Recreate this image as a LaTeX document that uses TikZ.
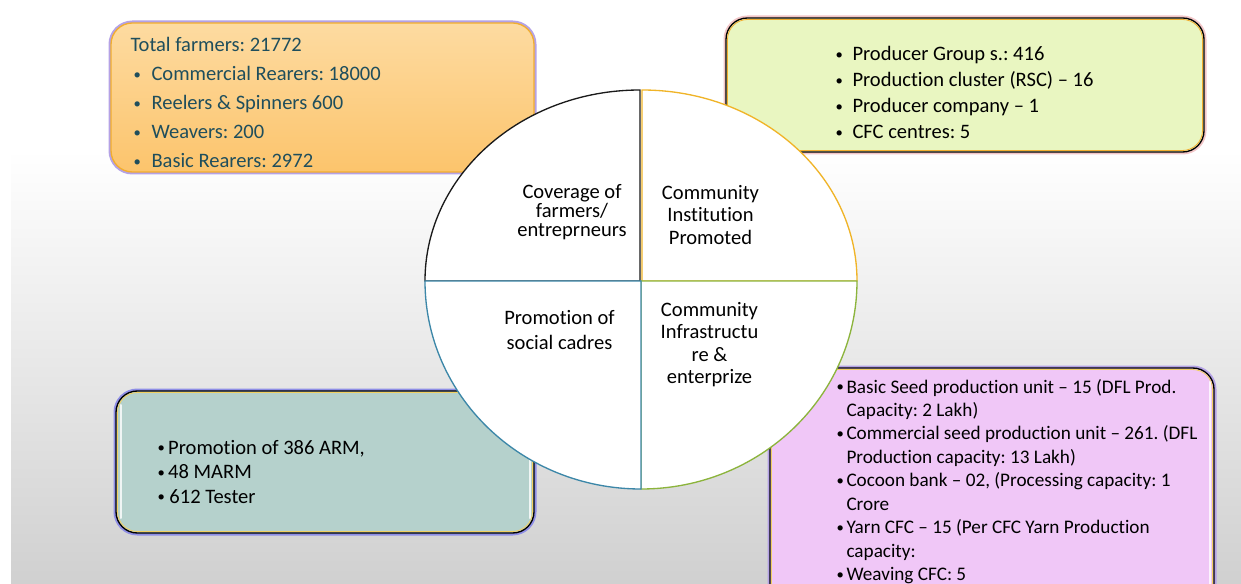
\documentclass[tikz,border=0pt]{standalone}
\usepackage{fontspec}
\setmainfont{Carlito}[Ligatures={TeX,NoCommon}]
\frenchspacing

\definecolor{bggrey}{HTML}{D0D0D0}
\definecolor{orangetop}{HTML}{FDDBA1}
\definecolor{orangebot}{HTML}{FCC46C}
\definecolor{orangeline}{HTML}{F2AE2E}
\definecolor{glowpurple}{HTML}{B4A2E6}
\definecolor{glowpink}{HTML}{F2C6C8}
\definecolor{glowblue}{HTML}{8E8EE6}
\definecolor{greenfill}{HTML}{E9F6C1}
\definecolor{tealfill}{HTML}{B5D1CC}
\definecolor{pinkfill}{HTML}{F0C7F7}
\definecolor{yellowline}{HTML}{F2D060}
\definecolor{tealtext}{HTML}{1F4E5C}
\definecolor{pieTL}{HTML}{1A1A1A}
\definecolor{pieTR}{HTML}{F0B428}
\definecolor{pieBL}{HTML}{3C87A8}
\definecolor{pieBR}{HTML}{8CB43C}

\newcommand{\boxlines}[1]{\begin{tabular}[t]{@{}l@{}}#1\end{tabular}}
\newcommand{\pielines}[1]{\begin{tabular}[t]{@{}c@{}}#1\end{tabular}}
\newcommand{\smallbul}{\raisebox{0.9pt}{\fontsize{11}{11}\selectfont\textbullet}}
\newcommand{\obul}{\hspace{2.25pt}\makebox[13.5pt][l]{\smallbul}}
\newcommand{\gbul}{\makebox[12.75pt][l]{\smallbul}}
\newcommand{\pbul}{\makebox[7.5pt][l]{\smallbul}}

\tikzset{every picture/.style={line width=0.75pt}}
\tikzset{
  boxtext/.style={anchor=base west, inner sep=0pt, font=\fontsize{15.4}{21.75}\selectfont},
  pietext/.style={anchor=base, inner sep=0pt},
  glow/.style={line width=3.75pt, rounded corners=16pt},
  panel/.style={line width=1pt, rounded corners=16pt},
  rim/.style={line width=0.6pt, rounded corners=15pt},
  shine/.style={white, line width=1.5pt, opacity=0.8, line cap=round},
  pie/.style={fill=white, line width=1pt},
}

\begin{document}
\begin{tikzpicture}[x=0.75pt,y=0.75pt,yscale=-1,xscale=1]
	\useasboundingbox (0,0) rectangle (1241,584);

	%Shape: Background
	\shade[top color=white, bottom color=bggrey] (11,150) rectangle (1241,584);

	%Shape: Rounded Rect [farmers]
	\draw[glow, draw=glowpurple] (111,23) rectangle (534,172);
	\draw[panel, draw=orangeline, top color=orangetop, bottom color=orangebot] (111,23) rectangle (534,172);
	%Shape: Rounded Rect [institutions]
	\draw[glow, draw=glowpink] (726,18) rectangle (1204,152);
	\draw[panel, draw=black, fill=greenfill] (726,18) rectangle (1204,152);
	\draw[rim, draw=orangeline] (727.5,19.5) rectangle (1202.5,150.5);
	%Shape: Rounded Rect [cadres]
	\draw[glow, draw=glowblue] (116,391) rectangle (534,533);
	\draw[panel, draw=black, fill=tealfill] (116,391) rectangle (534,533);
	\draw[rim, draw=yellowline] (117.5,392.5) rectangle (532.5,531.5);
	\draw[shine] (120.5,405) -- (120.5,518);
	\draw[shine] (530,405) -- (530,518);
	%Shape: Rounded Rect [infrastructure]
	\draw[glow, draw=glowpurple] (770,368) rectangle (1214,612);
	\draw[panel, draw=black, fill=pinkfill] (770,368) rectangle (1214,612);
	\draw[rim, draw=yellowline] (771.5,369.5) rectangle (1212.5,610.5);
	\draw[shine] (1210,382) -- (1210,584);

	%Shape: Pie [top left]
	\draw[pie, draw=pieTL] (640,281) -- (425,281) arc[start angle=180, end angle=270, x radius=215, y radius=191] -- cycle;
	%Shape: Pie [top right]
	\draw[pie, draw=pieTR] (642,281) -- (642,90) arc[start angle=270, end angle=360, x radius=215, y radius=191] -- cycle;
	%Shape: Pie [bottom right]
	\draw[pie, draw=pieBR] (641,281) -- (857,281) arc[start angle=0, end angle=90, x radius=216, y radius=208] -- cycle;
	%Shape: Pie [bottom left]
	\draw[pie, draw=pieBL] (641,281) -- (641,489) arc[start angle=90, end angle=180, x radius=216, y radius=208] -- cycle;

	% Text Node
	\node[pietext, font=\fontsize{15.4}{13.5}\selectfont] (coverage) at (572,198.3) {\pielines{Coverage of\\farmers/\\entreprneurs}};
	% Text Node
	\node[pietext, font=\fontsize{15.4}{16.8}\selectfont] (institution) at (710.5,199.3) {\pielines{Community\\Institution\\Promoted}};
	% Text Node
	\node[pietext, font=\fontsize{15.4}{18.2}\selectfont] (cadres) at (559.5,325) {\pielines{Promotion of\\social cadres}};
	% Text Node
	\node[pietext, font=\fontsize{15.4}{17}\selectfont] (infra) at (709.5,316) {\pielines{Community\\Infrastructu\\re \&\\enterprize}};

	% Text Node
	\node[boxtext, text=tealtext] (farmerlist) at (130,51.7) {\boxlines{Total farmers: 21772\\
		\obul Commercial Rearers: 18000\\
		\obul Reelers \& Spinners 600\\
		\obul Weavers: 200\\
		\obul Basic Rearers: 2972}};
	% Text Node
	\node[boxtext, font=\fontsize{15.4}{19.5}\selectfont] (grouplist) at (835,60.5) {\boxlines{\gbul Producer Group s.: 416\\
		\gbul Production cluster (RSC) -- 16\\
		\gbul Producer company -- 1\\
		\gbul CFC centres: 5}};
	% Text Node
	\node[boxtext, font=\fontsize{15.4}{18.4}\selectfont] (cadrelist) at (157,454) {\boxlines{\smallbul\,Promotion of 386 ARM,\\
		\smallbul\,48 MARM\\
		\smallbul\ 612 Tester}};
	% Text Node
	\node[boxtext, font=\fontsize{14.4}{17.6}\selectfont] (unitlist) at (836,393) {\boxlines{\pbul Basic Seed production unit -- 15 (DFL Prod.\\
		\hspace{7.5pt}Capacity: 2 Lakh)\\
		\pbul Commercial seed production unit -- 261. (DFL\\
		\hspace{7.5pt}Production capacity: 13 Lakh)\\
		\pbul Cocoon bank -- 02, (Processing capacity: 1\\
		\hspace{7.5pt}Crore\\
		\pbul Yarn CFC -- 15 (Per CFC Yarn Production\\
		\hspace{7.5pt}capacity:\\
		\pbul Weaving CFC: 5}};

\end{tikzpicture}
\end{document}
